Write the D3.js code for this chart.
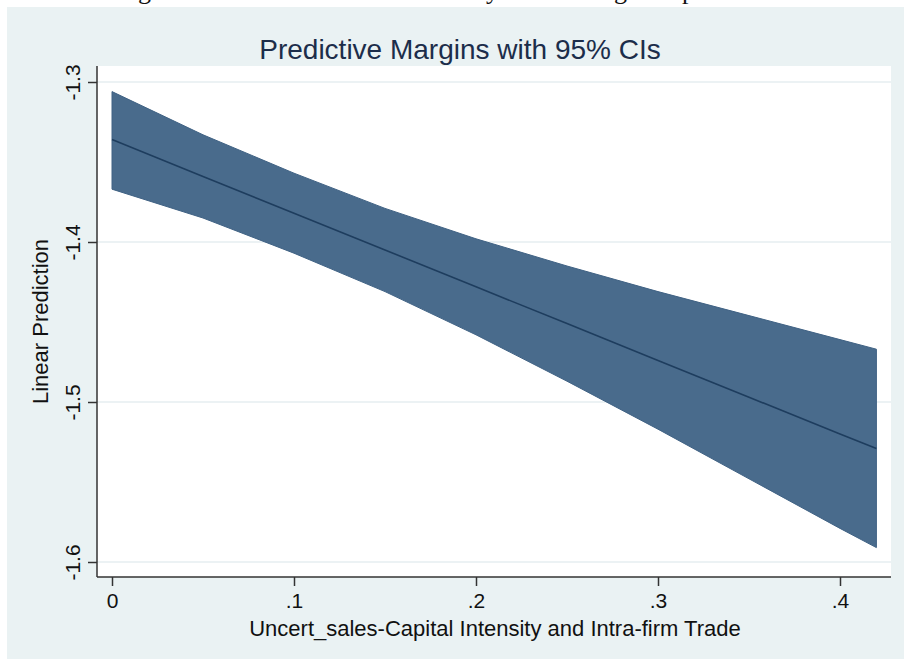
<!DOCTYPE html>
<html>
<head>
<meta charset="utf-8">
<script src="https://cdn.jsdelivr.net/npm/d3@7"></script>
<style>
    body { margin: 0; background: #ffffff; }
    svg { display: block; }
</style>
</head>
<body>
<div id="chart"></div>
<script>
// values
var xValues = [0, 0.05, 0.10, 0.15, 0.20, 0.25, 0.30, 0.35, 0.40, 0.42];
var fitValues = [-1.336, -1.359, -1.382, -1.405, -1.428, -1.451, -1.474, -1.497, -1.520, -1.529];
var upperValues = [-1.306, -1.333, -1.357, -1.379, -1.398, -1.415, -1.431, -1.446, -1.461, -1.467];
var lowerValues = [-1.367, -1.385, -1.407, -1.431, -1.458, -1.487, -1.517, -1.548, -1.579, -1.591];

var xTicks = [0, 0.1, 0.2, 0.3, 0.4];
var xTickLabels = ["0", ".1", ".2", ".3", ".4"];
var yTicks = [-1.3, -1.4, -1.5, -1.6];
var yTickLabels = ["-1.3", "-1.4", "-1.5", "-1.6"];

var titleText = "Predictive Margins with 95% CIs";
var xTitle = "Uncert_sales-Capital Intensity and Intra-firm Trade";
var yTitle = "Linear Prediction";

drawChart();

function drawChart() {
    var width = 904, height = 661;
    var plot = { left: 97, right: 891, top: 66, bottom: 577 };

    var svg = d3.select("#chart")
        .append("svg")
        .attr("width", width)
        .attr("height", height)
        .style("font-family", "'Liberation Sans', Arial, sans-serif");

    // cut off line of the surrounding document
    var doc = svg.append("g")
        .style("font-family", "'Liberation Serif', 'DejaVu Serif', serif")
        .style("font-size", "26px")
        .attr("fill", "#111");
    [["g", 138], ["y", 486], ["g", 614], ["p", 682]].forEach(function (d) {
        doc.append("text").attr("x", d[1]).attr("y", -1).text(d[0]);
    });

    // graph region background
    svg.append("rect")
        .attr("x", 7)
        .attr("y", 7)
        .attr("width", width - 7)
        .attr("height", 652)
        .attr("fill", "#eaf2f3");

    // plot region
    svg.append("rect")
        .attr("x", plot.left)
        .attr("y", plot.top)
        .attr("width", plot.right - plot.left)
        .attr("height", plot.bottom - plot.top)
        .attr("fill", "#ffffff");

    var x = d3.scaleLinear()
        .domain([0, 0.4])
        .range([112, 840]);

    var y = d3.scaleLinear()
        .domain([-1.6, -1.3])
        .range([562, 82]);

    // grid lines
    svg.append("g")
        .selectAll("line")
        .data(yTicks)
        .enter()
        .append("line")
        .attr("x1", plot.left)
        .attr("x2", plot.right)
        .attr("y1", function (d) { return y(d); })
        .attr("y2", function (d) { return y(d); })
        .attr("stroke", "#e6eef0")
        .attr("stroke-width", 1.5);

    var rows = xValues.map(function (v, i) {
        return { x: v, fit: fitValues[i], hi: upperValues[i], lo: lowerValues[i] };
    });

    // confidence band
    var band = d3.area()
        .x(function (d) { return x(d.x); })
        .y0(function (d) { return y(d.lo); })
        .y1(function (d) { return y(d.hi); });

    svg.append("path")
        .datum(rows)
        .attr("d", band)
        .attr("fill", "#496b8c")
        .attr("stroke", "#406284")
        .attr("stroke-width", 1);

    // margins line
    var line = d3.line()
        .x(function (d) { return x(d.x); })
        .y(function (d) { return y(d.fit); });

    svg.append("path")
        .datum(rows)
        .attr("d", line)
        .attr("fill", "none")
        .attr("stroke", "#1e3d5e")
        .attr("stroke-width", 1.6);

    // X axis
    var xAxis = svg.append("g")
        .attr("transform", "translate(0," + plot.bottom + ")")
        .call(d3.axisBottom(x)
            .tickValues(xTicks)
            .tickSize(9)
            .tickSizeOuter(0)
            .tickPadding(7)
            .tickFormat(function (d, i) { return xTickLabels[i]; }));
    xAxis.select(".domain").remove();
    xAxis.selectAll(".tick line").attr("stroke", "#333").attr("stroke-width", 1.5);
    xAxis.selectAll("text")
        .style("font-size", "21px")
        .style("font-family", "'Liberation Sans', Arial, sans-serif")
        .attr("fill", "#111");

    // Y axis
    var yAxis = svg.append("g")
        .attr("transform", "translate(" + plot.left + ",0)")
        .call(d3.axisLeft(y)
            .tickValues(yTicks)
            .tickSize(9)
            .tickSizeOuter(0)
            .tickFormat(function (d, i) { return yTickLabels[i]; }));
    yAxis.select(".domain").remove();
    yAxis.selectAll(".tick line").attr("stroke", "#333").attr("stroke-width", 1.5);
    yAxis.selectAll("text")
        .attr("x", 0)
        .attr("dy", null)
        .attr("transform", "translate(-17,0) rotate(-90)")
        .style("text-anchor", "middle")
        .style("font-size", "21px")
        .style("font-family", "'Liberation Sans', Arial, sans-serif")
        .attr("fill", "#111");

    // axis lines
    svg.append("line")
        .attr("x1", plot.left).attr("x2", plot.left)
        .attr("y1", plot.top).attr("y2", plot.bottom)
        .attr("stroke", "#333").attr("stroke-width", 1.5);
    svg.append("line")
        .attr("x1", plot.left).attr("x2", plot.right)
        .attr("y1", plot.bottom).attr("y2", plot.bottom)
        .attr("stroke", "#333").attr("stroke-width", 1.5);

    // titles
    svg.append("text")
        .attr("x", 460)
        .attr("y", 59)
        .attr("text-anchor", "middle")
        .style("font-size", "28px")
        .attr("fill", "#1c2d4a")
        .text(titleText);

    svg.append("text")
        .attr("x", 495)
        .attr("y", 636)
        .attr("text-anchor", "middle")
        .style("font-size", "22px")
        .attr("fill", "#111")
        .text(xTitle);

    svg.append("text")
        .attr("transform", "translate(48," + ((plot.top + plot.bottom) / 2) + ") rotate(-90)")
        .attr("text-anchor", "middle")
        .style("font-size", "22px")
        .attr("fill", "#111")
        .text(yTitle);
}
</script>
</body>
</html>
